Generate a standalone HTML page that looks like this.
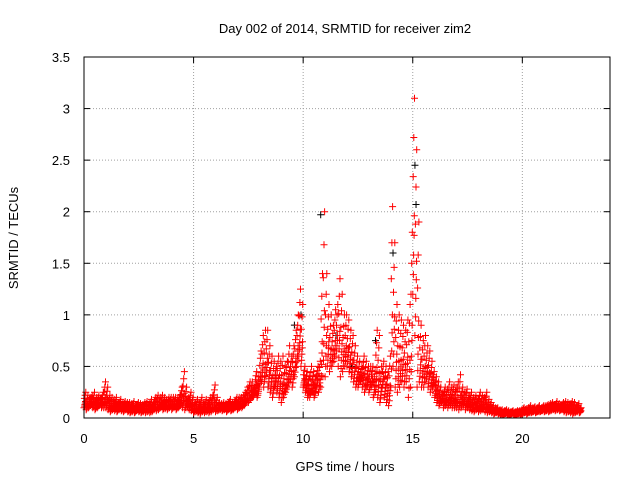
<!DOCTYPE html>
<html><head><meta charset="utf-8"><style>
body{margin:0;background:#fff}
svg text{font-family:"Liberation Sans",sans-serif;font-size:13px;fill:#000}
</style></head><body>
<svg id="chart" width="640" height="480" viewBox="0 0 640 480">
<rect width="640" height="480" fill="#fff"/>
<text x="345" y="33" text-anchor="middle">Day 002 of 2014, SRMTID for receiver zim2</text>
<text x="345" y="471" text-anchor="middle">GPS time / hours</text>
<text x="18" y="238" text-anchor="middle" transform="rotate(-90 18 238)">SRMTID / TECUs</text>
<g id="grid"></g>
<g id="ticks"></g>
<g id="marks"></g>
<rect x="84" y="57" width="526" height="361" fill="none" stroke="#000" stroke-width="1"/>
</svg>
<script>
const xTicks=[0,5,10,15,20];
const yTicks=[0,0.5,1,1.5,2,2.5,3,3.5];
const yTickLabels=["0","0.5","1","1.5","2","2.5","3","3.5"];
const step=0.1;
const lo=[.1,.08,.1,.12,.1,.08,.1,.12,.1,.1,
.1,.08,.06,.08,.07,.06,.08,.07,.06,.08,
.06,.05,.06,.05,.07,.06,.05,.06,.05,.06,
.05,.06,.08,.07,.08,.1,.08,.09,.08,.1,
.08,.1,.08,.1,.12,.1,.08,.1,.08,.07,
.05,.06,.05,.04,.06,.05,.06,.05,.06,.08,
.06,.07,.08,.07,.08,.06,.08,.07,.08,.1,
.08,.1,.1,.12,.15,.15,.18,.2,.25,.2,
.3,.35,.3,.4,.3,.25,.2,.3,.25,.2,
.15,.2,.25,.3,.35,.3,.4,.5,.6,.5,
.3,.25,.2,.2,.25,.2,.3,.25,.3,.4,
.4,.5,.45,.5,.55,.6,.5,.4,.45,.5,
.5,.45,.4,.35,.3,.3,.35,.3,.25,.3,
.25,.3,.2,.25,.2,.15,.3,.2,.15,.12,
.3,.5,.3,.25,.3,.35,.3,.35,.2,.3,
1.2,.8,.3,.35,.3,.3,.35,.3,.25,.3,
.2,.15,.12,.15,.1,.12,.1,.12,.1,.1,
.1,.08,.1,.12,.08,.1,.08,.07,.06,.08,
.06,.07,.08,.06,.05,.06,.05,.04,.05,.04,
.03,.03,.04,.03,.03,.04,.03,.03,.04,.03,
.04,.05,.04,.05,.05,.06,.05,.06,.06,.07,
.06,.07,.06,.07,.08,.07,.08,.07,.08,.06,
.05,.06,.05,.04,.05,.06,.05];
const hi=[.25,.22,.2,.22,.25,.2,.22,.2,.25,.35,
.3,.22,.2,.18,.2,.15,.18,.15,.16,.15,
.15,.14,.16,.12,.15,.14,.13,.15,.16,.14,
.18,.15,.2,.22,.2,.22,.2,.18,.2,.2,
.2,.2,.18,.22,.3,.45,.3,.2,.25,.2,
.15,.18,.15,.2,.15,.18,.15,.2,.22,.32,
.2,.15,.14,.15,.14,.15,.18,.15,.16,.2,
.2,.2,.22,.25,.3,.35,.35,.3,.45,.4,
.65,.8,.85,.85,.7,.6,.55,.5,.6,.55,
.6,.5,.55,.7,.6,.7,.85,1.0,1.25,1.1,
.5,.45,.4,.5,.45,.4,.5,.55,1.4,2.0,
1.4,1.1,1.0,.9,1.05,1.1,1.35,1.2,1.0,1.0,
.95,.85,.8,.7,.6,.55,.5,.6,.55,.5,
.5,.5,.45,.85,.8,.5,.55,.5,.45,.6,
2.05,1.7,1.1,1.0,.95,.9,.85,.95,1.1,1.8,
3.1,2.6,1.9,.9,.75,.8,.7,.65,.55,.45,
.4,.35,.3,.25,.3,.28,.35,.3,.32,.3,
.35,.42,.3,.25,.28,.22,.25,.2,.22,.18,
.25,.22,.2,.25,.18,.15,.12,.1,.1,.08,
.08,.07,.08,.07,.06,.07,.06,.07,.07,.08,
.1,.09,.1,.12,.1,.11,.1,.12,.1,.12,
.12,.13,.14,.15,.12,.16,.14,.13,.15,.16,
.15,.14,.16,.15,.12,.14,.1];
const blackT=[10.8,15.1,15.15,9.6,12.2,13.3,14.1,8.4,9.9,11.5];
const blackV=[1.97,2.45,2.07,0.9,0.5,0.75,1.6,0.3,1.0,0.8];
const X0=84,X1=610,Y0=418,Y1=57;
const sx=v=>X0+(v/24)*(X1-X0);
const sy=v=>Y0-(v/3.5)*(Y0-Y1);
const NS="http://www.w3.org/2000/svg";
const grid=document.getElementById('grid'),ticks=document.getElementById('ticks'),marks=document.getElementById('marks');
function mk(tag,attrs,parent){const e=document.createElementNS(NS,tag);for(const k in attrs)e.setAttribute(k,attrs[k]);parent.appendChild(e);return e;}
xTicks.forEach(t=>{const x=sx(t);
 if(t>0){const g=mk('line',{x1:x,x2:x,y1:Y0,y2:Y1,stroke:'#a0a0a0','stroke-dasharray':'1,2'},grid);}
 mk('line',{x1:x,x2:x,y1:Y0,y2:Y0-6,stroke:'#000'},ticks);mk('line',{x1:x,x2:x,y1:Y1,y2:Y1+6,stroke:'#000'},ticks);
 const tx=mk('text',{x:x,y:443,'text-anchor':'middle'},ticks);tx.textContent=String(t);
 
 });
yTicks.forEach((t,i)=>{const y=sy(t);
 if(t>0&&t<3.5){const g=mk('line',{x1:X0,x2:X1,y1:y,y2:y,stroke:'#a0a0a0','stroke-dasharray':'1,2'},grid);}
 mk('line',{x1:X0,x2:X0+6,y1:y,y2:y,stroke:'#000'},ticks);mk('line',{x1:X1,x2:X1-6,y1:y,y2:y,stroke:'#000'},ticks);
 const tx=mk('text',{x:70,y:y+5,'text-anchor':'end'},ticks);tx.textContent=yTickLabels[i];
 
 });
let d='';
function plus(x,y){d+=`M${(x-3.5).toFixed(1)} ${y.toFixed(1)}h7M${x.toFixed(1)} ${(y-3.5).toFixed(1)}v7`;}
let db='';
blackT.forEach((t,i)=>{const x=sx(t),y=sy(blackV[i]);db+=`M${x-3.5} ${y}h7M${x} ${y-3.5}v7`;});
const pb=mk('path',{d:db,stroke:'#000','stroke-width':1,fill:'none'},marks);


const fr=[0,0.2,0.4,0.6,0.8,1];const off=[0,0.04,0.07,0.02,0.05,0.08];
lo.forEach((l,i)=>{const h=hi[i];const t=i*step;
 fr.forEach((f,j)=>{plus(sx(t+off[j]),sy(l+(h-l)*f));});
 plus(sx(t+0.03),sy(l+(h-l)*0.1));plus(sx(t+0.06),sy(l+(h-l)*0.3));});
const pr=mk('path',{d:d,stroke:'#ff0000','stroke-width':1,fill:'none'},marks);


</script>
</body></html>
